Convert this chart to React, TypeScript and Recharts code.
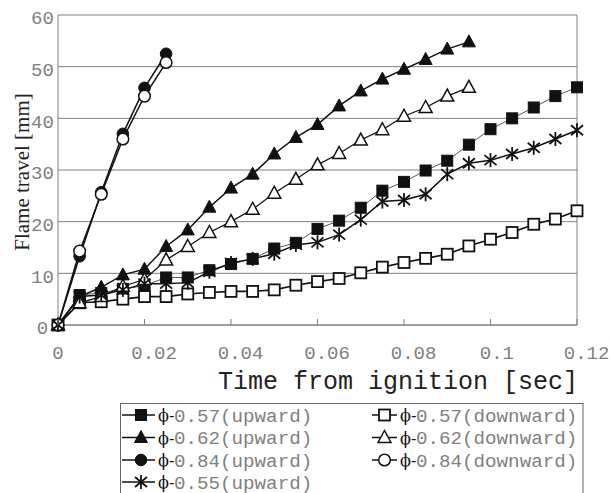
import React from 'react';
import {
  LineChart,
  Line,
  XAxis,
  YAxis,
  CartesianGrid,
  ReferenceLine,
  Legend,
} from 'recharts';

// time from ignition [sec]
const TIMES = [
  0, 0.005, 0.01, 0.015, 0.02, 0.025, 0.03, 0.035, 0.04, 0.045, 0.05, 0.055, 0.06,
  0.065, 0.07, 0.075, 0.08, 0.085, 0.09, 0.095, 0.1, 0.105, 0.11, 0.115, 0.12,
];

// flame travel [mm]
const PHI057_UP = [
  0, 5.8, 6.2, 7.0, 7.6, 9.2, 9.2, 10.6, 11.8, 12.8, 14.8, 15.9, 18.6, 20.2, 22.7,
  26.0, 27.7, 29.9, 31.8, 34.9, 37.9, 40.0, 42.1, 44.3, 46.0,
];
const PHI057_DOWN = [
  0, 4.3, 4.5, 5.0, 5.5, 5.5, 6.0, 6.3, 6.5, 6.5, 6.8, 7.7, 8.4, 9.0, 10.1, 11.2,
  12.1, 12.9, 13.7, 15.3, 16.6, 17.9, 19.5, 20.5, 22.1,
];
const PHI062_UP = [
  0, 5.5, 7.3, 9.7, 10.8, 15.2, 18.4, 22.8, 26.5, 29.2, 33.1, 36.3, 38.8, 42.4, 45.3,
  47.6, 49.5, 51.4, 53.4, 54.8,
];
const PHI062_DOWN = [
  0, 4.3, 5.5, 7.5, 8.8, 12.6, 15.2, 17.9, 20.0, 22.4, 25.5, 28.2, 31.0, 33.2, 35.8,
  37.8, 40.4, 42.1, 44.3, 46.0,
];
const PHI084_UP = [0, 13.3, 25.7, 37.0, 45.9, 52.5];
const PHI084_DOWN = [0, 14.3, 25.3, 36.0, 44.3, 50.8];
const PHI055_UP = [
  0, 5.5, 5.8, 6.8, 8.0, 8.0, 8.2, 10.3, 12.0, 12.8, 13.8, 15.5, 16.0, 17.5, 20.4,
  23.9, 24.2, 25.3, 29.2, 31.3, 31.9, 33.1, 34.3, 36.0, 37.7,
];

const X_TICKS = [0, 0.02, 0.04, 0.06, 0.08, 0.1, 0.12];
const Y_TICKS = [0, 10, 20, 30, 40, 50, 60];

type Shape = 'sqFill' | 'sqOpen' | 'triFill' | 'triOpen' | 'cirFill' | 'cirOpen' | 'star';

const SERIES: { key: string; label: string; shape: Shape; values: number[]; stroke: string; width: number }[] = [
  { key: 's057u', label: '0.57(upward)', shape: 'sqFill', values: PHI057_UP, stroke: '#555', width: 1 },
  { key: 's057d', label: '0.57(downward)', shape: 'sqOpen', values: PHI057_DOWN, stroke: '#111', width: 1.6 },
  { key: 's062u', label: '0.62(upward)', shape: 'triFill', values: PHI062_UP, stroke: '#111', width: 1.5 },
  { key: 's062d', label: '0.62(downward)', shape: 'triOpen', values: PHI062_DOWN, stroke: '#111', width: 1.3 },
  { key: 's084u', label: '0.84(upward)', shape: 'cirFill', values: PHI084_UP, stroke: '#111', width: 1.5 },
  { key: 's084d', label: '0.84(downward)', shape: 'cirOpen', values: PHI084_DOWN, stroke: '#111', width: 1.5 },
  { key: 's055u', label: '0.55(upward)', shape: 'star', values: PHI055_UP, stroke: '#111', width: 1.5 },
];

const data = TIMES.map((t, i) => {
  const row: Record<string, number | undefined> = { t };
  SERIES.forEach((s) => {
    row[s.key] = s.values[i];
  });
  return row;
});

const MONO = '"Liberation Mono", "DejaVu Sans Mono", monospace';
const SERIF = '"Liberation Serif", "DejaVu Serif", serif';
const GRAY = '#808080';

function Marker({ shape, cx, cy }: { shape: Shape; cx: number; cy: number }) {
  switch (shape) {
    case 'sqFill':
      return <rect x={cx - 5.5} y={cy - 5.5} width={11} height={11} fill="#111" stroke="#111" />;
    case 'sqOpen':
      return <rect x={cx - 5.5} y={cy - 5.5} width={11} height={11} fill="#fff" stroke="#111" strokeWidth={1.8} />;
    case 'triFill':
      return (
        <polygon
          points={`${cx},${cy - 7} ${cx - 6.5},${cy + 5} ${cx + 6.5},${cy + 5}`}
          fill="#111"
          stroke="#111"
        />
      );
    case 'triOpen':
      return (
        <polygon
          points={`${cx},${cy - 7} ${cx - 6.5},${cy + 5} ${cx + 6.5},${cy + 5}`}
          fill="#fff"
          stroke="#111"
          strokeWidth={1.5}
        />
      );
    case 'cirFill':
      return <circle cx={cx} cy={cy} r={5.8} fill="#111" stroke="#111" />;
    case 'cirOpen':
      return <circle cx={cx} cy={cy} r={5.8} fill="#fff" stroke="#111" strokeWidth={1.5} />;
    case 'star':
    default:
      return (
        <g stroke="#111" strokeWidth={1.8}>
          <line x1={cx} y1={cy - 7} x2={cx} y2={cy + 7} />
          <line x1={cx - 6} y1={cy - 5} x2={cx + 6} y2={cy + 5} />
          <line x1={cx - 6} y1={cy + 5} x2={cx + 6} y2={cy - 5} />
        </g>
      );
  }
}

const makeDot = (shape: Shape, name: string) => (props: any) => {
  const { cx, cy, index, value } = props;
  if (cx == null || cy == null || value == null) return <g key={`${name}-${index}`} />;
  return (
    <g key={`${name}-${index}`}>
      <Marker shape={shape} cx={cx} cy={cy} />
    </g>
  );
};

const XTick = (props: any) => {
  const { x, payload } = props;
  const label = payload.value === 0 ? '0' : String(payload.value);
  return (
    <g>
      <line x1={x} x2={x} y1={325} y2={319} stroke={GRAY} />
      <text
        x={x + 3.2 * (label.length - 1)}
        y={359}
        textAnchor="middle"
        fontFamily={MONO}
        fontSize={19}
        fill={GRAY}
      >
        {label}
      </text>
    </g>
  );
};

const YTick = (props: any) => {
  const { y, payload } = props;
  return (
    <text x={42.5} y={y + 9.3} textAnchor="middle" fontFamily={MONO} fontSize={19} fill={GRAY}>
      {payload.value}
    </text>
  );
};

function LegendBox() {
  const rowY = [415, 437.5, 460, 482];
  const left = SERIES.filter((s) => s.label.includes('upward'));
  const right = SERIES.filter((s) => s.label.includes('downward'));
  const renderItem = (s: (typeof SERIES)[number], row: number, x0: number, x1: number, mx: number, tx: number) => {
    const y = rowY[row] - 403;
    return (
      <g key={s.key}>
        <line x1={x0} x2={x1} y1={y} y2={y} stroke="#111" strokeWidth={1.5} />
        <Marker shape={s.shape} cx={mx} cy={y} />
        <text x={tx} y={y + 6} fontFamily='"DejaVu Serif", serif' fontSize={16} fill="#111">
          {'\u03D5-'}
        </text>
        <text x={tx + 16} y={y + 6.5} fontFamily={MONO} fontSize={19.2} fill={GRAY}>
          {s.label}
        </text>
      </g>
    );
  };
  return (
    <svg width={464} height={90} style={{ display: 'block', overflow: 'hidden' }}>
      <rect x={0.5} y={0.5} width={462.5} height={120} fill="#fff" stroke="#666" />
      {left.map((s, i) => renderItem(s, i, 2, 35, 21, 38))}
      {right.map((s, i) => renderItem(s, i, 252, 277, 264.5, 280))}
    </svg>
  );
}

export default function App() {
  return (
    <div style={{ position: 'absolute', left: 0, top: 0, width: 610, height: 493, background: '#fff' }}>
      <LineChart width={610} height={493} data={data} margin={{ top: 15, right: 33, bottom: 0, left: 0 }}>
        <CartesianGrid vertical={false} stroke={GRAY} strokeWidth={1} />
        <XAxis
          dataKey="t"
          type="number"
          domain={[0, 0.12]}
          ticks={X_TICKS}
          height={168}
          tickLine={false}
          axisLine={{ stroke: GRAY }}
          tick={<XTick />}
          interval={0}
          label={{
            value: 'Time from ignition [sec]',
            content: () => (
              <text x={578} y={389} textAnchor="end" fontFamily={MONO} fontSize={25} fill="#222">
                Time from ignition [sec]
              </text>
            ),
          }}
        />
        <YAxis
          type="number"
          domain={[0, 60]}
          ticks={Y_TICKS}
          width={58}
          tickLine={false}
          axisLine={{ stroke: GRAY }}
          tick={<YTick />}
          interval={0}
          label={{
            value: 'Flame travel [mm]',
            content: () => (
              <text
                x={0}
                y={0}
                transform="translate(29 172) rotate(-90)"
                textAnchor="middle"
                fontFamily={SERIF}
                fontSize={21}
                fill="#222"
              >
                Flame travel [mm]
              </text>
            ),
          }}
        />
        <ReferenceLine x={0.12} stroke={GRAY} ifOverflow="visible" />
        {SERIES.map((s) => (
          <Line
            key={s.key}
            type="linear"
            dataKey={s.key}
            stroke={s.stroke}
            strokeWidth={s.width}
            dot={makeDot(s.shape, s.key)}
            activeDot={false}
            isAnimationActive={false}
          />
        ))}
        <Legend
          layout="vertical"
          verticalAlign="middle"
          align="center"
          wrapperStyle={{ position: 'absolute', left: 120, top: 403, width: 464, height: 90 }}
          content={() => <LegendBox />}
        />
      </LineChart>
    </div>
  );
}
